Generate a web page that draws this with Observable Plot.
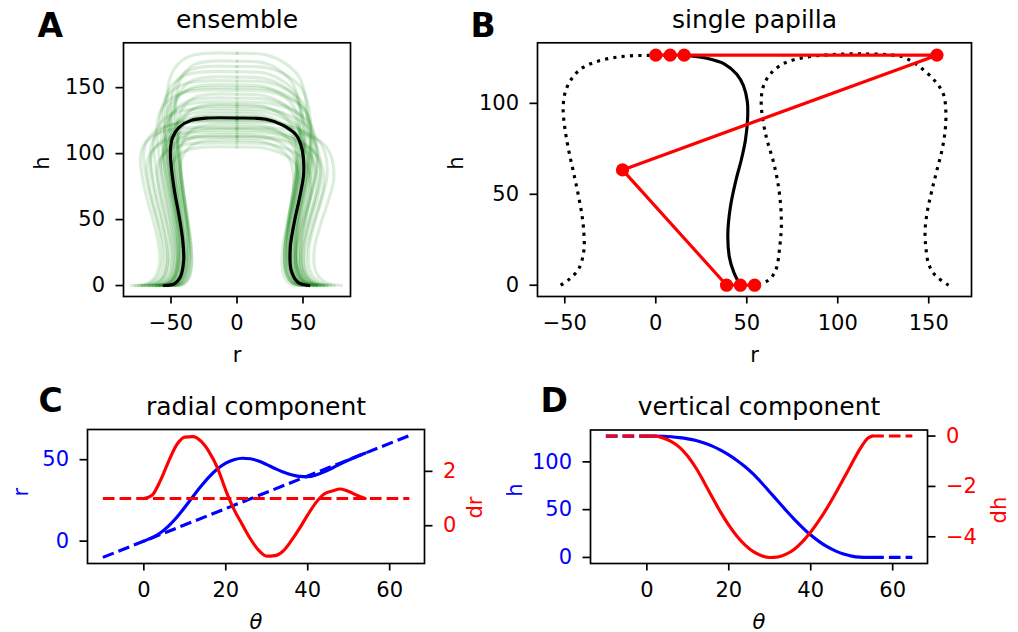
<!DOCTYPE html>
<html>
<head>
<meta charset="utf-8">
<script src="https://cdn.jsdelivr.net/npm/d3@7"></script>
<script src="https://cdn.jsdelivr.net/npm/@observablehq/plot@0.6"></script>
<style>
  html, body { margin: 0; padding: 0; background: #fff; overflow: hidden; }
  #fig { position: relative; width: 1018px; height: 632px; background: #fff; }
  #fig svg { position: absolute; left: 0; top: 0; max-width: none; }
</style>
</head>
<body>
<div id="fig"></div>
<script>
// ================= DATA =================
// ---- Panel A: ensemble ----
const aXTicks = [-50, 0, 50];
const aYTicks = [0, 50, 100, 150];
// mean papilla outline (black); left half and right half, apex -> base
const profileTop = 127;
const profileLeftR  = [0, -22.2, -34.8, -43.7, -48.7, -50.5, -49.5, -47, -43.7, -41.1, -40.4, -43, -47.5, -55.1];
const profileLeftH  = [127, 127, 125.2, 120.1, 112.5, 102.4, 87.3, 69.6, 51.8, 34.1, 19, 6.3, 1.3, 0];
const profileRightR = [0, 22, 35, 45, 49.5, 50.5, 47.5, 43.7, 40.4, 41.1, 46.2, 54.5];
const profileRightH = [127, 126, 121.4, 113.8, 102.4, 84.7, 67, 49.3, 29.1, 11.4, 2.5, 0];
// ensemble members (green): apex height and width relative to the mean outline
const ensembleApex       = [176, 170, 166, 162, 158, 155, 152, 150, 148, 145, 142, 139, 137, 136, 134, 132, 130, 128, 126, 125, 124, 122, 120, 119, 118, 116, 114, 113, 112, 110, 108, 105];
const ensembleWidthLeft  = [1.05, 0.92, 1.0, 1.1, 0.95, 1.15, 1.0, 1.08, 1.2, 0.9, 1.05, 1.1, 0.88, 0.95, 1.25, 1.0, 0.9, 1.1, 1.05, 1.3, 1.4, 0.85, 1.45, 1.12, 1.0, 1.3, 0.95, 1.35, 1.15, 0.85, 1.2, 1.0];
const ensembleWidthRight = [1.05, 0.95, 1.1, 1.0, 1.0, 1.1, 0.95, 1.12, 1.15, 0.95, 1.1, 1.2, 0.9, 1.0, 1.2, 1.05, 0.9, 1.0, 1.05, 1.25, 1.35, 0.9, 1.45, 1.15, 1.1, 1.25, 0.9, 1.3, 1.2, 0.85, 1.1, 0.95];

// ---- Panel B: single papilla ----
const bXTicks = [-50, 0, 50, 100, 150];
const bYTicks = [0, 50, 100];
const outlineLeftR = [-52.3, -47.8, -42.3, -39.5, -39.5, -40.4, -42.3, -45, -47.8, -50, -50.9, -49.6, -45.9, -40.4, -33, -23.9, -14.7, -3.7, 5];
const outlineLeftH = [0, 3.1, 9.1, 19.2, 28.3, 37.4, 48.3, 61.1, 73.9, 86.6, 97.6, 106.7, 114, 119.5, 122.8, 125, 126.1, 126.4, 126.5];
const outlineRightR = [56, 61, 64.5, 66.5, 68.1, 69, 68.7, 67.2, 64.5, 60.8, 58.4, 58, 59.5, 63.5, 70.9, 81.9, 96.6, 114.9, 133, 138, 145.2, 153.5, 158.1, 159.4, 159, 157.2, 154.4, 151.7, 149.3, 148, 148.4, 149.9, 153.5, 160.9];
const outlineRightH = [0.5, 2.2, 5.6, 10, 21, 31.9, 42.9, 55.7, 68.4, 81.2, 94, 103.1, 110.4, 116.8, 122.2, 125.3, 126.8, 127.2, 126.2, 124.6, 120, 112.2, 104.9, 95.8, 84.8, 73.9, 62.9, 52, 41, 30.1, 21, 11.9, 5.5, 0];
const centerR = [15.5, 28, 38, 44.5, 48.2, 50.3, 50.5, 49.3, 47, 44, 41, 39.6, 40.4, 43, 46.5];
const centerH = [126.5, 124.8, 121.5, 116, 109.7, 101, 92.5, 80, 69, 57.5, 43, 28.4, 15.6, 6.8, 0];
const controlR = [0, 7.9, 15.6, 154.5, -18.3, 38.9, 46.5, 54.3];
const controlH = [126.5, 126.5, 126.5, 126.5, 63.4, 0, 0, 0];

// ---- Panel C: radial component ----
const thetaTicks = [0, 20, 40, 60];
const cRTicks = [0, 50];
const cDrTicks = [0, 2];
const thetaC = [0, 2, 4, 6, 8, 10, 12, 14, 16, 18, 20, 22, 24, 26, 28, 30, 32, 34, 36, 38, 40, 42, 44, 46, 48, 50, 52, 54];
const rC  = [0, 2.1, 5.0, 9.2, 14.5, 20.8, 27.4, 33.8, 39.6, 44.4, 47.9, 50.0, 50.9, 50.6, 49.2, 47.0, 44.6, 42.4, 40.8, 39.8, 39.6, 40.6, 42.5, 44.9, 47.4, 49.8, 52.0, 54.0];
const drC = [1.0, 1.12, 1.65, 2.35, 2.97, 3.26, 3.28, 3.1, 2.7, 2.12, 1.3, 0.6, 0.05, -0.48, -0.9, -1.12, -1.1, -0.93, -0.55, -0.1, 0.4, 0.85, 1.17, 1.28, 1.35, 1.26, 1.12, 1.0];
const thetaBaseC = [-10, 64.8];
const rBaseC = [-10, 64.8];
const drBaseC = [1, 1];

// ---- Panel D: vertical component ----
const dHTicks = [0, 50, 100];
const dDhTicks = [0, -2, -4];
const thetaD = [0, 2, 4, 6, 8, 10, 12, 14, 16, 18, 20, 22, 24, 26, 28, 30, 32, 34, 36, 38, 40, 42, 44, 46, 48, 50, 52, 54, 55];
const hD  = [127, 127, 126.8, 126.3, 125.4, 124.1, 122.3, 119.8, 116.5, 112.3, 107.3, 101.5, 94.9, 87.1, 78.1, 68.5, 58.7, 49.1, 39.9, 31.3, 23.4, 16.8, 11.2, 6.8, 3.5, 1.4, 0.3, 0, 0];
const dhD = [0, 0, -0.08, -0.22, -0.45, -0.8, -1.27, -1.84, -2.44, -3.02, -3.54, -3.98, -4.33, -4.59, -4.75, -4.82, -4.8, -4.69, -4.49, -4.19, -3.81, -3.36, -2.85, -2.29, -1.7, -1.1, -0.52, -0.08, 0];
const thetaBeforeD = [-10, 0];
const thetaAfterD = [55, 64.8];
const hBeforeD = [127, 127];
const hAfterD = [0, 0];
const dhOutsideD = [0, 0];

// ================= LAYOUT / STYLE =================
const W = 1018, H = 632;
const FONT = "DejaVu Sans";
const LW = 3.15;
const frameA = {left: 123, right: 350, top: 42.3, bottom: 296};
const frameB = {left: 537, right: 971, top: 42.3, bottom: 296};
const frameC = {left: 87, right: 424, top: 429, bottom: 563};
const frameD = {left: 590, right: 927, top: 429.5, bottom: 563};

const fmt = d => d < 0 ? "\u2212" + Math.abs(d) : String(d);
const rows = (xs, ys, extra = {}) => xs.map((x, i) => ({x, y: ys[i], ...extra}));

function panel(f, xDomain, yDomain, marks) {
  return Plot.plot({
    width: W, height: H,
    marginLeft: f.left, marginRight: W - f.right, marginTop: f.top, marginBottom: H - f.bottom,
    x: {domain: xDomain, axis: null},
    y: {domain: yDomain, axis: null},
    style: {background: "transparent", fontFamily: FONT, fontSize: "21px", color: "black", overflow: "visible"},
    marks
  });
}
const axX = ticks => Plot.axisX({ticks, tickFormat: fmt, tickSize: 7.5, tickPadding: 11.5, strokeWidth: 1.7, label: null, fontSize: 21, fill: "black", stroke: "black"});
const axY = (ticks, anchor = "left", fill = "black") => Plot.axisY({ticks, anchor, tickFormat: fmt, tickSize: 7.5, tickPadding: 11, strokeWidth: 1.7, label: null, fontSize: 21, fill, stroke: "black"});
const frame = () => Plot.frame({stroke: "black", strokeWidth: 1.7});
const title = s => Plot.text([s], {text: d => d, frameAnchor: "top", dy: -15, lineAnchor: "bottom", fontSize: 25, fill: "black"});
const letter = (s, dx, dy) => Plot.text([s], {text: d => d, frameAnchor: "top-left", dx, dy, textAnchor: "start", lineAnchor: "bottom", fontSize: 33, fontWeight: "bold", fill: "black"});
const yLabel = (s, side, dx, fill = "black") => Plot.text([s], {text: d => d, frameAnchor: side, dx, rotate: -90, fontSize: 21, fill});
const xLabel = (s, italic = false) => Plot.text([s], {text: d => d, frameAnchor: "bottom", dy: 65, lineAnchor: "bottom", fontSize: 21, fontStyle: italic ? "italic" : "normal", fill: "black"});

const fig = document.getElementById("fig");

// ================= PANEL A =================
const ensRows = [];
ensembleApex.forEach((apex, i) => {
  const k = apex / profileTop;
  profileLeftR.forEach((r, j) => ensRows.push({id: "L" + i, x: r * ensembleWidthLeft[i], y: profileLeftH[j] * k}));
  profileRightR.forEach((r, j) => ensRows.push({id: "R" + i, x: r * ensembleWidthRight[i], y: profileRightH[j] * k}));
});
const meanRows = rows(profileLeftR, profileLeftH, {id: "L"}).concat(rows(profileRightR, profileRightH, {id: "R"}));

fig.append(panel(frameA, [-86, 86], [-8.3, 184], [
  Plot.line(ensRows, {x: "x", y: "y", z: "id", stroke: "#008000", strokeOpacity: 0.14, strokeWidth: LW, curve: "catmull-rom", strokeLinecap: "square"}),
  Plot.line(meanRows, {x: "x", y: "y", z: "id", stroke: "black", strokeWidth: LW, curve: "catmull-rom"}),
  frame(), axX(aXTicks), axY(aYTicks),
  title("ensemble"), letter("A", -86, -6.3), yLabel("h", "left", -81), xLabel("r")
]));

// ================= PANEL B =================
const dotted = {stroke: "black", strokeWidth: LW, strokeDasharray: "3.15,5.2", strokeLinecap: "butt", curve: "catmull-rom"};
fig.append(panel(frameB, [-65, 173.5], [-6.2, 133.3], [
  Plot.line(rows(outlineLeftR, outlineLeftH), {x: "x", y: "y", ...dotted}),
  Plot.line(rows(outlineRightR, outlineRightH), {x: "x", y: "y", ...dotted}),
  Plot.line(rows(centerR, centerH), {x: "x", y: "y", stroke: "black", strokeWidth: LW, curve: "catmull-rom"}),
  Plot.line(rows(controlR, controlH), {x: "x", y: "y", stroke: "red", strokeWidth: LW}),
  Plot.dot(rows(controlR, controlH), {x: "x", y: "y", r: 6.6, fill: "red"}),
  frame(), axX(bXTicks), axY(bYTicks),
  title("single papilla"), letter("B", -67, -6.3), yLabel("h", "left", -81.5), xLabel("r")
]));

// ================= PANEL C =================
const xTheta = [-13.75, 68.5];
const dashed = {strokeWidth: LW, strokeDasharray: "11.65,5.04", strokeLinecap: "butt"};
fig.append(panel(frameC, xTheta, [-13.74, 68.54], [
  Plot.line(rows(thetaBaseC, rBaseC), {x: "x", y: "y", stroke: "blue", ...dashed}),
  Plot.line(rows(thetaC, rC), {x: "x", y: "y", stroke: "blue", strokeWidth: LW, curve: "monotone-x"}),
  axX(thetaTicks), axY(cRTicks, "left", "blue"),
  title("radial component"), letter("C", -49, -18), yLabel("r", "left", -66, "blue"), xLabel("\u03b8", true)
]));
fig.append(panel(frameC, xTheta, [-1.39, 3.54], [
  Plot.line(rows(thetaBaseC, drBaseC), {x: "x", y: "y", stroke: "red", ...dashed}),
  Plot.line(rows(thetaC, drC), {x: "x", y: "y", stroke: "red", strokeWidth: LW, curve: "monotone-x"}),
  frame(), axY(cDrTicks, "right", "red"),
  yLabel("dr", "right", 51, "red")
]));

// ================= PANEL D =================
fig.append(panel(frameD, xTheta, [-6.35, 133.35], [
  Plot.line(rows(thetaBeforeD, hBeforeD), {x: "x", y: "y", stroke: "blue", ...dashed}),
  Plot.line(rows(thetaAfterD, hAfterD), {x: "x", y: "y", stroke: "blue", ...dashed}),
  Plot.line(rows(thetaD, hD), {x: "x", y: "y", stroke: "blue", strokeWidth: LW, curve: "monotone-x"}),
  axX(thetaTicks), axY(dHTicks, "left", "blue"),
  title("vertical component"), letter("D", -50, -18.5), yLabel("h", "left", -75, "blue"), xLabel("\u03b8", true)
]));
fig.append(panel(frameD, xTheta, [-5.06, 0.24], [
  Plot.line(rows(thetaBeforeD, dhOutsideD), {x: "x", y: "y", stroke: "red", ...dashed}),
  Plot.line(rows(thetaAfterD, dhOutsideD), {x: "x", y: "y", stroke: "red", ...dashed}),
  Plot.line(rows(thetaD, dhD), {x: "x", y: "y", stroke: "red", strokeWidth: LW, curve: "monotone-x"}),
  frame(), axY(dDhTicks, "right", "red"),
  yLabel("dh", "right", 71.5, "red")
]));
</script>
</body>
</html>
